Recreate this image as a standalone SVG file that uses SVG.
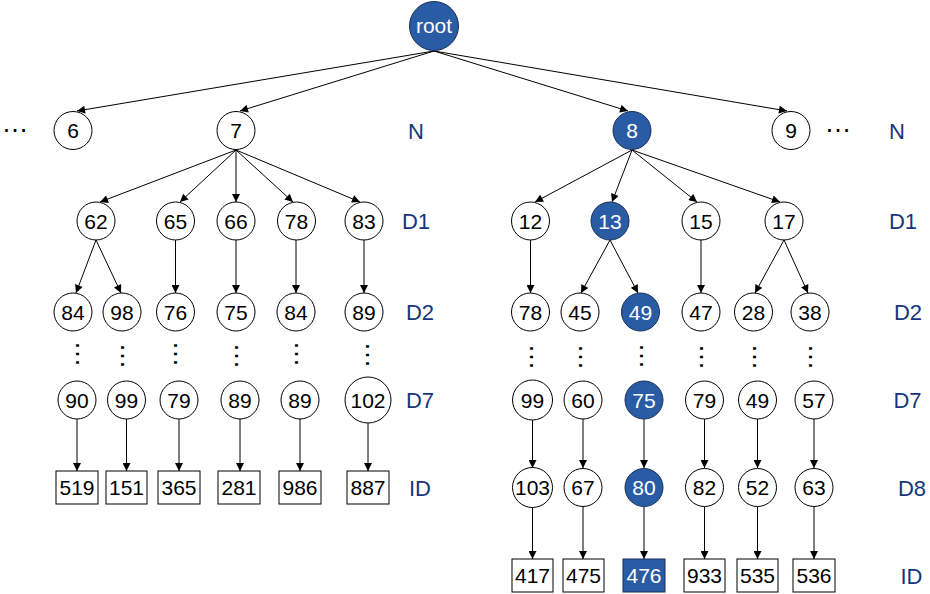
<svg xmlns="http://www.w3.org/2000/svg" width="930" height="594" viewBox="0 0 930 594">
<style>
.n circle{fill:#fff;stroke:#000;stroke-width:1}
.n rect{fill:#fff;stroke:#000;stroke-width:1}
.h circle,.h rect{fill:#2a5ca6;stroke:#1a2f55;stroke-width:1}
text{font-family:"Liberation Sans",Arial,sans-serif;text-anchor:middle}
.n text{font-size:21px;fill:#000}
.h text{font-size:21px;fill:#fff}
.lbl{font-size:22px;fill:#17357a}
.dots{font-size:27px;fill:#000}
#edges line{stroke:#000;stroke-width:1;marker-end:url(#ah)}
</style>
<defs>
<marker id="ah" viewBox="0 0 10 10" refX="10" refY="5" markerWidth="9" markerHeight="8" markerUnits="userSpaceOnUse" orient="auto">
<path d="M0,0 L10,5 L0,10 z" fill="#000"/>
</marker>
</defs>
<rect width="930" height="594" fill="#fff"/>
<g id="edges">
<line x1="434" y1="51" x2="77" y2="111"/>
<line x1="434" y1="51" x2="240" y2="111"/>
<line x1="434" y1="51" x2="628" y2="111"/>
<line x1="434" y1="51" x2="787" y2="111"/>
<line x1="236" y1="150" x2="100" y2="202"/>
<line x1="236" y1="150" x2="180" y2="202"/>
<line x1="236" y1="150" x2="236" y2="202"/>
<line x1="236" y1="150" x2="293" y2="202"/>
<line x1="236" y1="150" x2="360" y2="202"/>
<line x1="632" y1="150" x2="535" y2="202"/>
<line x1="632" y1="150" x2="612" y2="202"/>
<line x1="632" y1="150" x2="697" y2="202"/>
<line x1="632" y1="150" x2="780" y2="202"/>
<line x1="96" y1="240" x2="76" y2="293"/>
<line x1="96" y1="240" x2="121" y2="293"/>
<line x1="175.5" y1="240" x2="175.5" y2="293"/>
<line x1="236" y1="240" x2="236" y2="293"/>
<line x1="296" y1="240" x2="296" y2="293"/>
<line x1="364" y1="240" x2="364" y2="293"/>
<line x1="530.5" y1="240" x2="530.5" y2="293"/>
<line x1="610" y1="240" x2="581" y2="293"/>
<line x1="610" y1="240" x2="638" y2="293"/>
<line x1="701" y1="240" x2="701" y2="293"/>
<line x1="784" y1="240" x2="755" y2="293"/>
<line x1="784" y1="240" x2="808" y2="293"/>
<line x1="77" y1="419" x2="77" y2="471"/>
<line x1="126.5" y1="419" x2="126.5" y2="471"/>
<line x1="179" y1="419" x2="179" y2="471"/>
<line x1="240" y1="419" x2="240" y2="471"/>
<line x1="300" y1="419" x2="300" y2="471"/>
<line x1="368" y1="423" x2="368" y2="471"/>
<line x1="532.5" y1="420" x2="532.5" y2="468"/>
<line x1="583" y1="419" x2="583" y2="468"/>
<line x1="644" y1="419" x2="644" y2="468"/>
<line x1="704.5" y1="419" x2="704.5" y2="468"/>
<line x1="757.5" y1="419" x2="757.5" y2="468"/>
<line x1="814" y1="419" x2="814" y2="468"/>
<line x1="532.5" y1="507.5" x2="532.5" y2="559"/>
<line x1="583" y1="506.5" x2="583" y2="559"/>
<line x1="644" y1="506.5" x2="644" y2="559"/>
<line x1="704.5" y1="506.5" x2="704.5" y2="559"/>
<line x1="757.5" y1="506.5" x2="757.5" y2="559"/>
<line x1="814" y1="506.5" x2="814" y2="559"/>
</g>
<g id="root" class="h"><circle cx="434" cy="26" r="24.5"/><text x="434" y="33">root</text></g>
<g id="n6" class="n"><circle cx="73" cy="130.5" r="19"/><text x="73" y="138">6</text></g>
<g id="n7" class="n"><circle cx="236" cy="130.5" r="19"/><text x="236" y="138">7</text></g>
<g id="n8" class="h"><circle cx="632" cy="130.5" r="19"/><text x="632" y="138">8</text></g>
<g id="n9" class="n"><circle cx="791" cy="130.5" r="19"/><text x="791" y="138">9</text></g>
<g id="d1_62" class="n"><circle cx="96" cy="221" r="19"/><text x="96" y="228.5">62</text></g>
<g id="d1_65" class="n"><circle cx="175.5" cy="221" r="19"/><text x="175.5" y="228.5">65</text></g>
<g id="d1_66" class="n"><circle cx="236" cy="221" r="19"/><text x="236" y="228.5">66</text></g>
<g id="d1_78" class="n"><circle cx="296.5" cy="221" r="19"/><text x="296.5" y="228.5">78</text></g>
<g id="d1_83" class="n"><circle cx="364" cy="221" r="19"/><text x="364" y="228.5">83</text></g>
<g id="d1_12" class="n"><circle cx="530.5" cy="221" r="19"/><text x="530.5" y="228.5">12</text></g>
<g id="d1_13" class="h"><circle cx="610" cy="221" r="19"/><text x="610" y="228.5">13</text></g>
<g id="d1_15" class="n"><circle cx="701" cy="221" r="19"/><text x="701" y="228.5">15</text></g>
<g id="d1_17" class="n"><circle cx="784" cy="221" r="19"/><text x="784" y="228.5">17</text></g>
<g id="d2_84a" class="n"><circle cx="73" cy="312" r="19"/><text x="73" y="319.5">84</text></g>
<g id="d2_98" class="n"><circle cx="122" cy="312" r="19"/><text x="122" y="319.5">98</text></g>
<g id="d2_76" class="n"><circle cx="175.5" cy="312" r="19"/><text x="175.5" y="319.5">76</text></g>
<g id="d2_75" class="n"><circle cx="236" cy="312" r="19"/><text x="236" y="319.5">75</text></g>
<g id="d2_84b" class="n"><circle cx="296" cy="312" r="19"/><text x="296" y="319.5">84</text></g>
<g id="d2_89" class="n"><circle cx="364" cy="312" r="19"/><text x="364" y="319.5">89</text></g>
<g id="d2_78" class="n"><circle cx="530.5" cy="312" r="19"/><text x="530.5" y="319.5">78</text></g>
<g id="d2_45" class="n"><circle cx="580" cy="312" r="19"/><text x="580" y="319.5">45</text></g>
<g id="d2_49" class="h"><circle cx="640.5" cy="312" r="19"/><text x="640.5" y="319.5">49</text></g>
<g id="d2_47" class="n"><circle cx="701" cy="312" r="19"/><text x="701" y="319.5">47</text></g>
<g id="d2_28" class="n"><circle cx="753.5" cy="312" r="19"/><text x="753.5" y="319.5">28</text></g>
<g id="d2_38" class="n"><circle cx="810" cy="312" r="19"/><text x="810" y="319.5">38</text></g>
<g id="vdots">
<text class="dots" transform="translate(75.6,354) rotate(90)">…</text>
<text class="dots" transform="translate(120.6,356) rotate(90)">…</text>
<text class="dots" transform="translate(173.6,354) rotate(90)">…</text>
<text class="dots" transform="translate(234.6,356) rotate(90)">…</text>
<text class="dots" transform="translate(294.6,354) rotate(90)">…</text>
<text class="dots" transform="translate(365.6,355) rotate(90)">…</text>
<text class="dots" transform="translate(529.6,357) rotate(90)">…</text>
<text class="dots" transform="translate(578.6,357) rotate(90)">…</text>
<text class="dots" transform="translate(639.6,356) rotate(90)">…</text>
<text class="dots" transform="translate(699.6,357) rotate(90)">…</text>
<text class="dots" transform="translate(752.6,357) rotate(90)">…</text>
<text class="dots" transform="translate(808.6,357) rotate(90)">…</text>
</g>
<g id="d7_90" class="n"><circle cx="77" cy="400" r="19"/><text x="77" y="407.5">90</text></g>
<g id="d7_99a" class="n"><circle cx="126.5" cy="400" r="19"/><text x="126.5" y="407.5">99</text></g>
<g id="d7_79a" class="n"><circle cx="179" cy="400" r="19"/><text x="179" y="407.5">79</text></g>
<g id="d7_89a" class="n"><circle cx="240" cy="400" r="19"/><text x="240" y="407.5">89</text></g>
<g id="d7_89b" class="n"><circle cx="300" cy="400" r="19"/><text x="300" y="407.5">89</text></g>
<g id="d7_102" class="n"><circle cx="368" cy="400" r="23"/><text x="368" y="407.5">102</text></g>
<g id="d7_99b" class="n"><circle cx="532.5" cy="400" r="20"/><text x="532.5" y="407.5">99</text></g>
<g id="d7_60" class="n"><circle cx="583" cy="400" r="19"/><text x="583" y="407.5">60</text></g>
<g id="d7_75" class="h"><circle cx="644" cy="400" r="19"/><text x="644" y="407.5">75</text></g>
<g id="d7_79b" class="n"><circle cx="704.5" cy="400" r="19"/><text x="704.5" y="407.5">79</text></g>
<g id="d7_49" class="n"><circle cx="757.5" cy="400" r="19"/><text x="757.5" y="407.5">49</text></g>
<g id="d7_57" class="n"><circle cx="814" cy="400" r="19"/><text x="814" y="407.5">57</text></g>
<g id="d8_103" class="n"><circle cx="532.5" cy="487.5" r="20"/><text x="532.5" y="495">103</text></g>
<g id="d8_67" class="n"><circle cx="583" cy="487.5" r="19"/><text x="583" y="495">67</text></g>
<g id="d8_80" class="h"><circle cx="644" cy="487.5" r="19"/><text x="644" y="495">80</text></g>
<g id="d8_82" class="n"><circle cx="704.5" cy="487.5" r="19"/><text x="704.5" y="495">82</text></g>
<g id="d8_52" class="n"><circle cx="757.5" cy="487.5" r="19"/><text x="757.5" y="495">52</text></g>
<g id="d8_63" class="n"><circle cx="814" cy="487.5" r="19"/><text x="814" y="495">63</text></g>
<g id="id_519" class="n"><rect x="56" y="471" width="42" height="33"/><text x="77" y="495">519</text></g>
<g id="id_151" class="n"><rect x="106" y="471" width="41" height="33"/><text x="126.5" y="495">151</text></g>
<g id="id_365" class="n"><rect x="158" y="471" width="42" height="33"/><text x="179" y="495">365</text></g>
<g id="id_281" class="n"><rect x="218" y="471" width="42" height="33"/><text x="239" y="495">281</text></g>
<g id="id_986" class="n"><rect x="279" y="471" width="42" height="33"/><text x="300" y="495">986</text></g>
<g id="id_887" class="n"><rect x="347" y="471" width="42" height="33"/><text x="368" y="495">887</text></g>
<g id="id_417" class="n"><rect x="512" y="559" width="41" height="33"/><text x="532.5" y="583">417</text></g>
<g id="id_475" class="n"><rect x="563" y="559" width="41" height="33"/><text x="583.5" y="583">475</text></g>
<g id="id_476" class="h"><rect x="623" y="559" width="42" height="33"/><text x="644" y="583">476</text></g>
<g id="id_933" class="n"><rect x="684" y="559" width="41" height="33"/><text x="704.5" y="583">933</text></g>
<g id="id_535" class="n"><rect x="737" y="559" width="41" height="33"/><text x="757.5" y="583">535</text></g>
<g id="id_536" class="n"><rect x="793" y="559" width="42" height="33"/><text x="814" y="583">536</text></g>
<g id="labels">
<text class="dots" x="15" y="132">…</text>
<text class="dots" x="838" y="132">…</text>
<text class="lbl" x="416" y="139">N</text>
<text class="lbl" x="897" y="139">N</text>
<text class="lbl" x="416" y="229">D1</text>
<text class="lbl" x="903" y="229">D1</text>
<text class="lbl" x="420" y="320">D2</text>
<text class="lbl" x="908" y="320">D2</text>
<text class="lbl" x="420" y="408">D7</text>
<text class="lbl" x="907.5" y="408">D7</text>
<text class="lbl" x="912" y="496">D8</text>
<text class="lbl" x="420" y="496">ID</text>
<text class="lbl" x="911.5" y="584">ID</text>
</g>
</svg>
